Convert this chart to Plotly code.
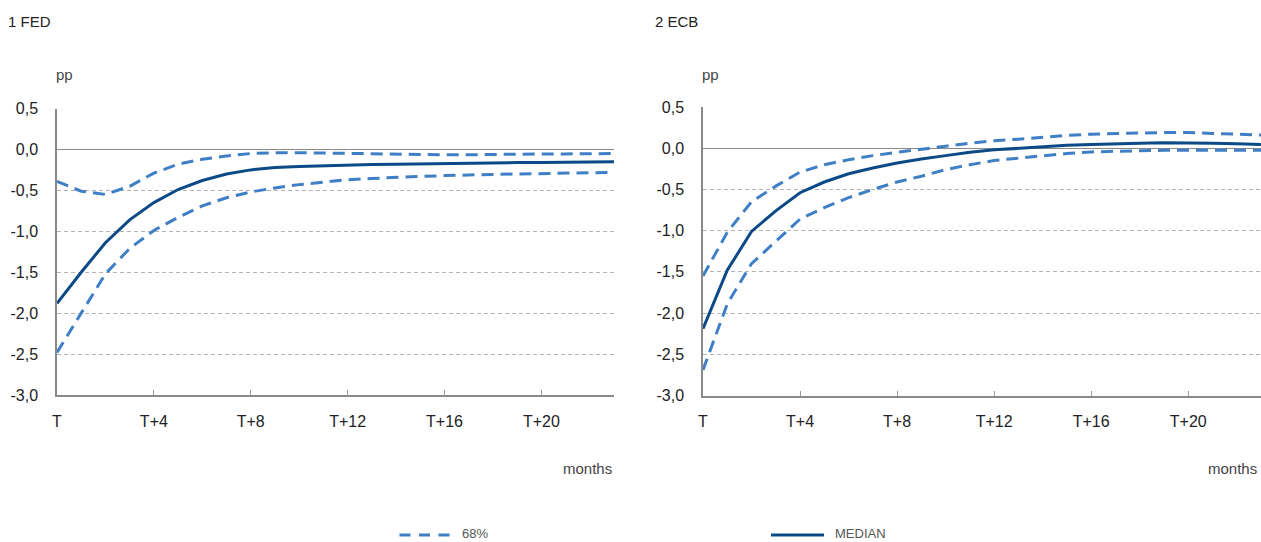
import plotly.graph_objects as go
from plotly.subplots import make_subplots

W, H = 1261, 542

months = list(range(24))
tick_vals = [0, 4, 8, 12, 16, 20]
tick_text = ["T", "T+4", "T+8", "T+12", "T+16", "T+20"]
y_ticks = [0.5, 0.0, -0.5, -1.0, -1.5, -2.0, -2.5, -3.0]
y_tick_text = ["0,5", "0,0", "-0,5", "-1,0", "-1,5", "-2,0", "-2,5", "-3,0"]

fed_median = [-1.88, -1.50, -1.14, -0.86, -0.65, -0.49, -0.38, -0.30, -0.25, -0.22, -0.21, -0.20,
              -0.19, -0.185, -0.18, -0.175, -0.17, -0.165, -0.165, -0.16, -0.16, -0.155, -0.155, -0.15]
fed_upper = [-0.39, -0.51, -0.55, -0.45, -0.29, -0.18, -0.12, -0.08, -0.05, -0.04, -0.04, -0.045,
             -0.05, -0.055, -0.06, -0.065, -0.065, -0.065, -0.06, -0.06, -0.055, -0.055, -0.05, -0.05]
fed_lower = [-2.48, -2.00, -1.52, -1.21, -0.99, -0.83, -0.69, -0.59, -0.52, -0.47, -0.43, -0.40,
             -0.37, -0.355, -0.34, -0.33, -0.32, -0.31, -0.305, -0.30, -0.295, -0.29, -0.285, -0.28]

ecb_median = [-2.19, -1.48, -1.01, -0.76, -0.54, -0.41, -0.31, -0.24, -0.18, -0.13, -0.09, -0.05,
              -0.02, 0.00, 0.02, 0.035, 0.045, 0.055, 0.06, 0.065, 0.065, 0.06, 0.055, 0.045]
ecb_upper = [-1.55, -1.02, -0.65, -0.46, -0.29, -0.20, -0.14, -0.09, -0.05, -0.01, 0.025, 0.06,
             0.09, 0.11, 0.135, 0.155, 0.17, 0.18, 0.185, 0.19, 0.19, 0.18, 0.17, 0.16]
ecb_lower = [-2.69, -1.89, -1.40, -1.13, -0.86, -0.72, -0.60, -0.50, -0.41, -0.34, -0.26, -0.20,
             -0.15, -0.12, -0.09, -0.065, -0.045, -0.035, -0.03, -0.025, -0.025, -0.025, -0.025, -0.025]

panels = ["1 FED", "2 ECB"]

MEDIAN_C = "#0b4a86"
BAND_C = "#3f7fc5"
FONT = "Liberation Sans, Arial, Helvetica, sans-serif"


def px(x):
    return x / W


def py(y):
    return 1 - y / H


fig = make_subplots(rows=1, cols=2)

series = [(fed_median, fed_upper, fed_lower), (ecb_median, ecb_upper, ecb_lower)]
for i, (med, up, lo) in enumerate(series, start=1):
    fig.add_trace(go.Scatter(x=months, y=up, mode="lines", name="68%",
                             line=dict(color=BAND_C, width=3, dash="12px,7px"),
                             showlegend=False), row=1, col=i)
    fig.add_trace(go.Scatter(x=months, y=lo, mode="lines", name="68%",
                             line=dict(color=BAND_C, width=3, dash="12px,7px"),
                             showlegend=False), row=1, col=i)
    fig.add_trace(go.Scatter(x=months, y=med, mode="lines", name="MEDIAN",
                             line=dict(color=MEDIAN_C, width=3),
                             showlegend=False), row=1, col=i)

xaxis_common = dict(range=[0, 23], tickvals=tick_vals, ticktext=tick_text,
                    showgrid=False, zeroline=False, showline=True,
                    linecolor="#8a8a8a", linewidth=1.5, ticks="inside", ticklen=5,
                    tickcolor="#9a9a9a", tickwidth=1, ticklabelstandoff=11,
                    tickfont=dict(family=FONT, size=16, color="#222222"))
yaxis_common = dict(range=[-3.0, 0.5], tickvals=y_ticks, ticktext=y_tick_text,
                    showgrid=True, gridcolor="#b4b4b4", gridwidth=1, griddash="4px,3px",
                    zeroline=True, zerolinecolor="#8a8a8a", zerolinewidth=1,
                    showline=True, linecolor="#8a8a8a", linewidth=1.5, ticks="",
                    ticklabelstandoff=14,
                    tickfont=dict(family=FONT, size=16, color="#222222"))

fig.update_layout(
    xaxis=dict(domain=[px(57), px(614)], **xaxis_common),
    xaxis2=dict(domain=[px(703), 1.0], **xaxis_common),
    yaxis=dict(domain=[py(395), py(108.5)], **yaxis_common),
    yaxis2=dict(domain=[py(395.5), py(107)], **yaxis_common),
)

annotations = []
title_x = [6, 653]
axis_x = [54, 700]
months_x = [614, 1259]
for t, tx, ax_, mx in zip(panels, title_x, axis_x, months_x):
    annotations.append(dict(text=t, x=px(tx), y=py(21), xref="paper", yref="paper",
                            xanchor="left", yanchor="middle", showarrow=False,
                            font=dict(family=FONT, size=15, color="#222222")))
    annotations.append(dict(text="pp", x=px(ax_), y=py(74), xref="paper", yref="paper",
                            xanchor="left", yanchor="middle", showarrow=False,
                            font=dict(family=FONT, size=15, color="#444444")))
    annotations.append(dict(text="months", x=px(mx), y=py(468), xref="paper", yref="paper",
                            xanchor="right", yanchor="middle", showarrow=False,
                            font=dict(family=FONT, size=15, color="#444444")))

annotations.append(dict(text="68%", x=px(461), y=py(533), xref="paper", yref="paper",
                        xanchor="left", yanchor="middle", showarrow=False, borderpad=0,
                        font=dict(family=FONT, size=13, color="#555555")))
annotations.append(dict(text="MEDIAN", x=px(834), y=py(533), xref="paper", yref="paper",
                        xanchor="left", yanchor="middle", showarrow=False, borderpad=0,
                        font=dict(family=FONT, size=13, color="#555555")))

shapes = [
    dict(type="line", xref="paper", yref="paper", x0=px(399.5), x1=px(451), y0=py(535), y1=py(535),
         line=dict(color=BAND_C, width=3, dash="11px,8.5px")),
    dict(type="line", xref="paper", yref="paper", x0=px(771), x1=px(824), y0=py(535), y1=py(535),
         line=dict(color=MEDIAN_C, width=3)),
]

fig.update_layout(
    autosize=True,
    margin=dict(l=0, r=0, t=0, b=0, autoexpand=False),
    paper_bgcolor="white", plot_bgcolor="white",
    showlegend=False,
    annotations=annotations,
    shapes=shapes,
    font=dict(family=FONT),
)

fig.write_html(
    "out.html",
    default_width="100vw",
    default_height="100vh",
    config={"displayModeBar": False, "responsive": True},
    post_script="document.documentElement.style.margin='0';"
                "document.body.style.margin='0';document.body.style.padding='0';"
                "document.body.style.overflow='hidden';",
)
